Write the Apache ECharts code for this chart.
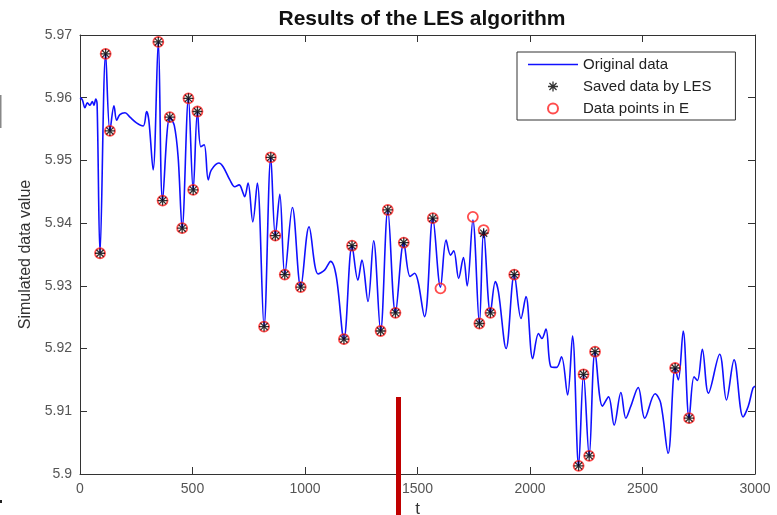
<!DOCTYPE html>
<html>
<head>
<meta charset="utf-8">
<script src="https://cdn.jsdelivr.net/npm/echarts@6/dist/echarts.min.js"></script>
<style>html,body{margin:0;padding:0;background:#fff;}#c{width:777px;height:515px;}</style>
</head>
<body>
<div id="c"></div>
<script>
// ---- data ----
const tLine = [0,10,22,33,44,55,62,70,76,89,114,133,151,163,177,200,222,251,281,296,306,325,348,367,399,419,436,454,482,503,522,537,552,570,584,617,636,666,688,707,725,732,747,768,788,818,848,868,888,910,944,981,1018,1058,1087,1114,1139,1173,1209,1235,1253,1280,1305,1336,1368,1402,1439,1467,1487,1531,1568,1602,1627,1647,1661,1683,1704,1721,1746,1775,1794,1824,1846,1860,1894,1930,1960,1982,2012,2038,2053,2071,2093,2118,2140,2167,2189,2216,2238,2263,2289,2322,2349,2374,2404,2426,2448,2481,2510,2556,2581,2614,2645,2659,2681,2707,2729,2744,2766,2793,2843,2873,2907,2947,2970,2991,3000];
const vLine = [5.9600,5.9597,5.9584,5.9592,5.9588,5.9594,5.9588,5.9598,5.9590,5.9352,5.9670,5.9547,5.9587,5.9564,5.9573,5.9576,5.9569,5.9560,5.9555,5.9578,5.9564,5.9485,5.9689,5.9436,5.9569,5.9556,5.9506,5.9392,5.9599,5.9453,5.9578,5.9522,5.9525,5.9469,5.9485,5.9496,5.9490,5.9469,5.9458,5.9461,5.9448,5.9442,5.9464,5.9402,5.9464,5.9235,5.9505,5.9380,5.9446,5.9318,5.9425,5.9298,5.9394,5.9319,5.9325,5.9339,5.9315,5.9215,5.9364,5.9309,5.9341,5.9275,5.9372,5.9228,5.9421,5.9257,5.9369,5.9315,5.9320,5.9251,5.9408,5.9298,5.9373,5.9349,5.9356,5.9312,5.9345,5.9300,5.9405,5.9240,5.9389,5.9257,5.9307,5.9290,5.9200,5.9318,5.9248,5.9283,5.9184,5.9224,5.9216,5.9231,5.9171,5.9170,5.9187,5.9126,5.9220,5.9013,5.9159,5.9029,5.9195,5.9108,5.9123,5.9078,5.9130,5.9089,5.9108,5.9138,5.9089,5.9128,5.9113,5.9033,5.9169,5.9150,5.9228,5.9089,5.9155,5.9149,5.9199,5.9129,5.9191,5.9118,5.9182,5.9091,5.9108,5.9137,5.9140];

const savedT = [89,114,133,348,367,399,454,482,503,522,818,848,868,910,981,1173,1209,1336,1368,1402,1439,1568,1775,1794,1824,1930,2216,2238,2263,2289,2645,2707];
const savedV = [5.9352,5.9670,5.9547,5.9689,5.9436,5.9569,5.9392,5.9599,5.9453,5.9578,5.9235,5.9505,5.9380,5.9318,5.9298,5.9215,5.9364,5.9228,5.9421,5.9257,5.9369,5.9408,5.9240,5.9384,5.9257,5.9318,5.9013,5.9159,5.9029,5.9195,5.9169,5.9089];

const eT = [89,114,133,348,367,399,454,482,503,522,818,848,868,910,981,1173,1209,1336,1368,1402,1439,1568,1602,1746,1775,1794,1824,1930,2216,2238,2263,2289,2645,2707];
const eV = [5.9352,5.9670,5.9547,5.9689,5.9436,5.9569,5.9392,5.9599,5.9453,5.9578,5.9235,5.9505,5.9380,5.9318,5.9298,5.9215,5.9364,5.9228,5.9421,5.9257,5.9369,5.9408,5.9296,5.9410,5.9240,5.9389,5.9257,5.9318,5.9013,5.9159,5.9029,5.9195,5.9169,5.9089];

const xTicks = [0,500,1000,1500,2000,2500,3000];
const xTickLabels = ['0','500','1000','1500','2000','2500','3000'];
const yTicks = [5.9,5.91,5.92,5.93,5.94,5.95,5.96,5.97];
const yTickLabels = ['5.9','5.91','5.92','5.93','5.94','5.95','5.96','5.97'];

const titleText = 'Results of the LES algorithm';
const xName = 't';
const yName = 'Simulated data value';
const seriesNames = ['Original data','Saved data by LES','Data points in E'];

// ---- chart ----
const FONT = '"Liberation Sans", Arial, Helvetica, sans-serif';
const starPath = 'path://M0 8.7L20 8.7L20 11.3L0 11.3Z M8.7 0L11.3 0L11.3 20L8.7 20Z M3.8 2L18 16.2L16.2 18L2 3.8Z M18 3.8L3.8 18L2 16.2L16.2 2Z';
const linePath = 'path://M0 0L50 0L50 1.6L0 1.6Z';
const zip = (a, b) => a.map((x, i) => [x, b[i]]);
const axisCol = '#333';
const lookup = (ticks, labels) => v => { const i = ticks.findIndex(t => Math.abs(t - v) < 1e-9); return i >= 0 ? labels[i] : ''; };

const chart = echarts.init(document.getElementById('c'), null, {renderer: 'canvas'});
chart.setOption({
  animation: false,
  backgroundColor: '#fff',
  title: {
    text: titleText, left: 417, top: 4, textAlign: 'center',
    textStyle: {fontFamily: FONT, fontWeight: 'bold', fontSize: 21, color: '#111'}
  },
  grid: {left: 80, right: 22, top: 35, bottom: 41, containLabel: false, outerBoundsMode: 'none'},
  legend: {
    orient: 'vertical', left: 517, top: 52,
    data: [
      {name: seriesNames[0], icon: linePath},
      {name: seriesNames[1]},
      {name: seriesNames[2]}
    ],
    itemWidth: 50, itemHeight: 10, itemGap: 7,
    padding: [5, 24, 4, 11],
    borderColor: '#333', borderWidth: 1, backgroundColor: '#fff',
    textStyle: {fontFamily: FONT, fontSize: 15, color: '#222'},
    selectedMode: false
  },
  xAxis: [
    {type: 'value', position: 'bottom', min: xTicks[0], max: xTicks[xTicks.length-1], interval: 500,
     name: xName, nameLocation: 'middle', nameGap: 24,
     nameTextStyle: {fontFamily: FONT, fontSize: 17, color: '#333'},
     axisLine: {onZero: false, lineStyle: {color: axisCol, width: 1}},
     axisTick: {inside: true, length: 7, lineStyle: {color: axisCol}},
     axisLabel: {fontFamily: FONT, fontSize: 14, color: '#555', margin: 8, formatter: lookup(xTicks, xTickLabels)},
     splitLine: {show: false}},
    {type: 'value', position: 'top', min: xTicks[0], max: xTicks[xTicks.length-1], interval: 500,
     axisLine: {onZero: false, lineStyle: {color: axisCol, width: 1}},
     axisTick: {inside: true, length: 7, lineStyle: {color: axisCol}},
     axisLabel: {show: false}, splitLine: {show: false}}
  ],
  yAxis: [
    {type: 'value', position: 'left', min: yTicks[0], max: yTicks[yTicks.length-1], interval: 0.01,
     name: yName, nameLocation: 'middle', nameGap: 46, nameRotate: 90,
     nameTextStyle: {fontFamily: FONT, fontSize: 16, color: '#333'},
     axisLine: {onZero: false, lineStyle: {color: axisCol, width: 1}},
     axisTick: {inside: true, length: 7, lineStyle: {color: axisCol}},
     axisLabel: {fontFamily: FONT, fontSize: 14, color: '#555', margin: 8, formatter: lookup(yTicks, yTickLabels)},
     splitLine: {show: false}},
    {type: 'value', position: 'right', min: yTicks[0], max: yTicks[yTicks.length-1], interval: 0.01,
     axisLine: {onZero: false, lineStyle: {color: axisCol, width: 1}},
     axisTick: {inside: true, length: 7, lineStyle: {color: axisCol}},
     axisLabel: {show: false}, splitLine: {show: false}}
  ],
  series: [
    {name: seriesNames[0], type: 'line', data: zip(tLine, vLine), smooth: 0.35,
     symbol: 'none', showSymbol: false, lineStyle: {color: '#1010ff', width: 1.6}, itemStyle: {color: '#1010ff'}, z: 2},
    {name: seriesNames[2], type: 'scatter', data: zip(eT, eV), symbol: 'circle', symbolSize: 10,
     itemStyle: {color: 'rgba(255,255,255,0)', borderColor: '#ff2020', borderWidth: 1.8}, z: 3},
    {name: seriesNames[1], type: 'scatter', data: zip(savedT, savedV), symbol: starPath, symbolSize: 10,
     itemStyle: {color: '#000'}, z: 4}
  ],
  graphic: [
    {type: 'rect', shape: {x: 396, y: 397, width: 5, height: 118}, style: {fill: '#c00000'}, z: 100},
    {type: 'rect', shape: {x: 0, y: 95, width: 1.5, height: 33}, style: {fill: '#888'}, z: 100},
    {type: 'rect', shape: {x: 0, y: 500, width: 2, height: 3}, style: {fill: '#222'}, z: 100}
  ]
});
</script>
</body>
</html>
